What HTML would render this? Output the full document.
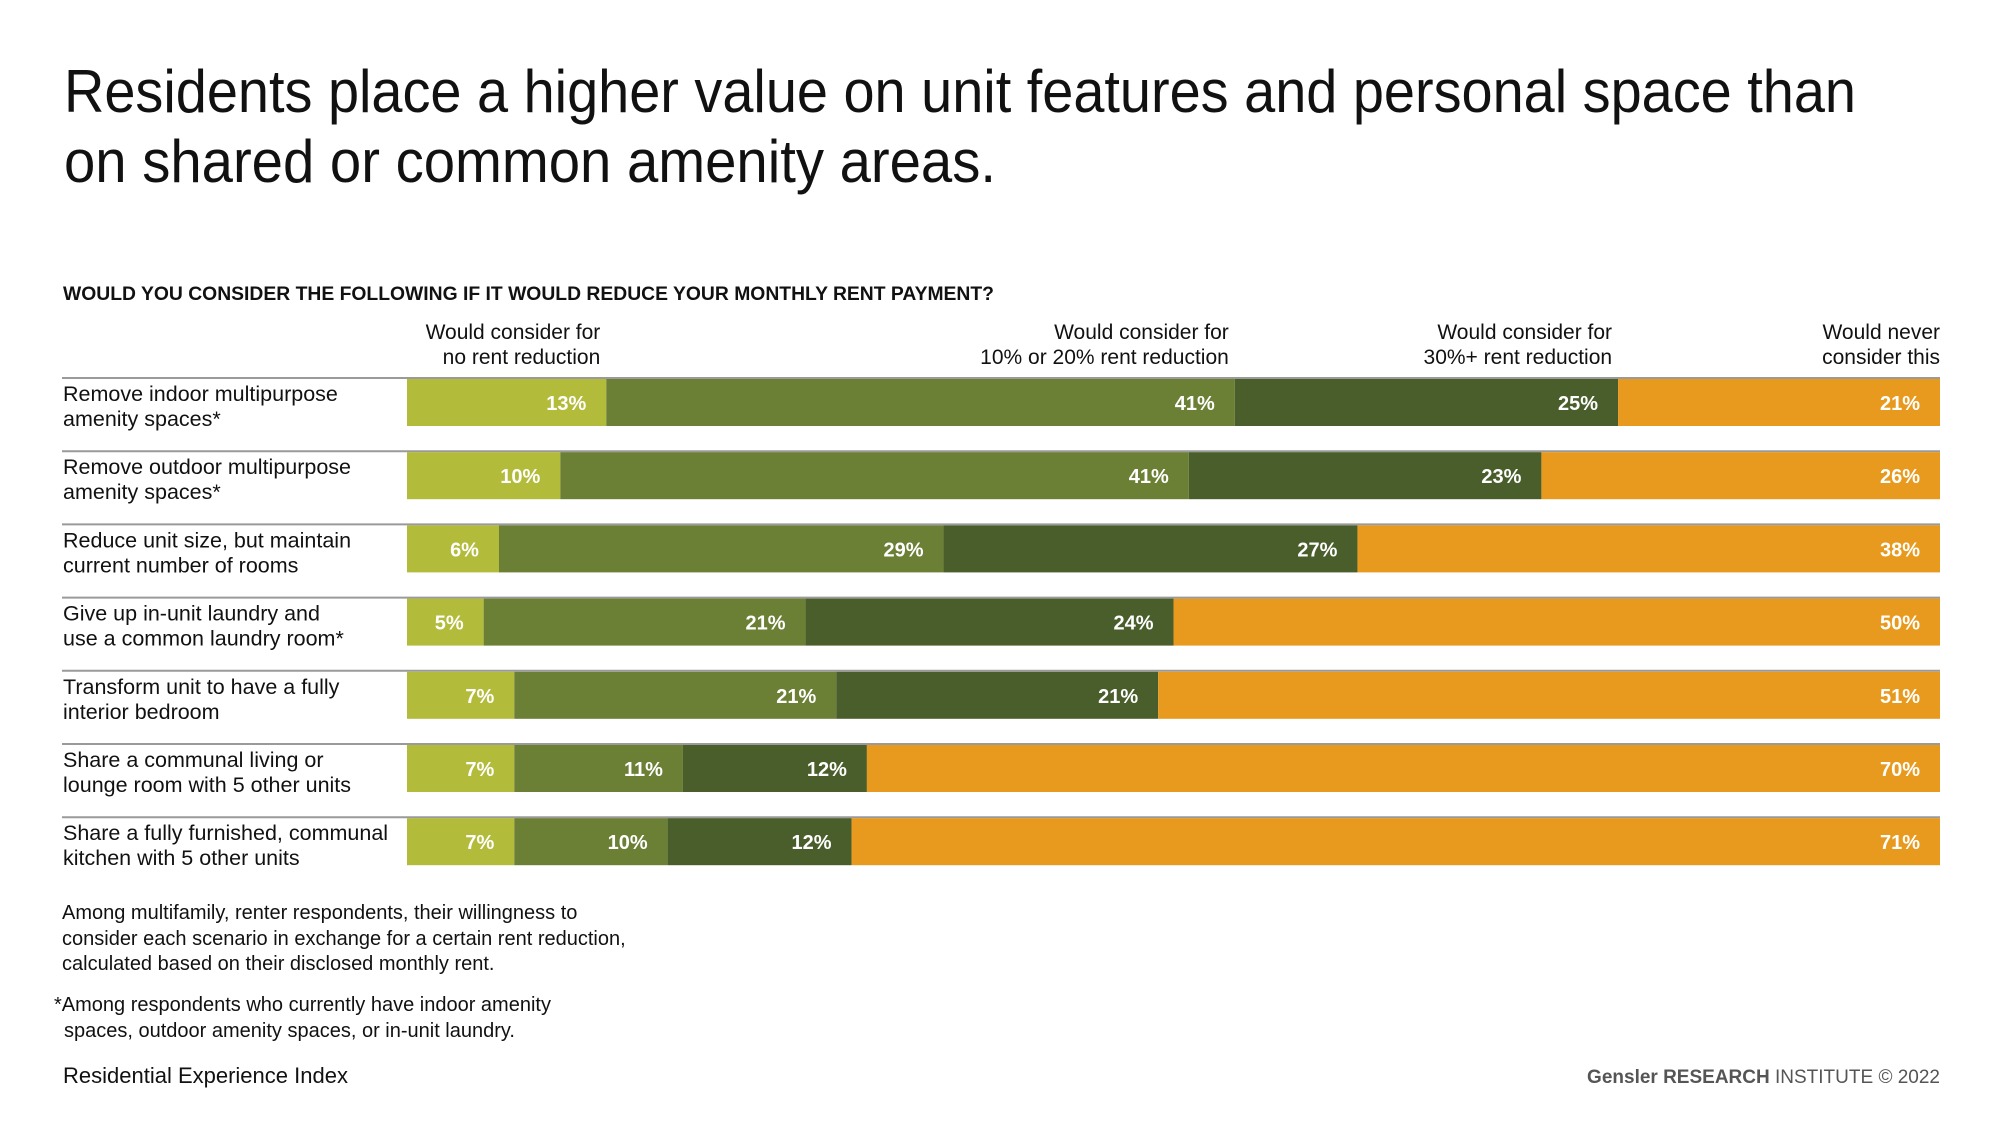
<!DOCTYPE html>
<html><head><meta charset="utf-8">
<style>
html,body{margin:0;padding:0;background:#fff;}
svg{display:block;font-family:"Liberation Sans",sans-serif;}
</style></head>
<body>
<svg id="chart" width="2000" height="1125" viewBox="0 0 2000 1125" xmlns="http://www.w3.org/2000/svg">
<text x="64" y="112" font-size="60" fill="#111" textLength="1792" lengthAdjust="spacingAndGlyphs">Residents place a higher value on unit features and personal space than</text>
<text x="64" y="182" font-size="60" fill="#111" textLength="932" lengthAdjust="spacingAndGlyphs">on shared or common amenity areas.</text>
<text x="63" y="300" font-size="19" font-weight="bold" fill="#111" textLength="931" lengthAdjust="spacingAndGlyphs">WOULD YOU CONSIDER THE FOLLOWING IF IT WOULD REDUCE YOUR MONTHLY RENT PAYMENT?</text>
<g id="headers"></g>
<g id="rows"></g>
<g font-size="20" fill="#111">
<text x="62" y="919">Among multifamily, renter respondents, their willingness to</text>
<text x="62" y="945">consider each scenario in exchange for a certain rent reduction,</text>
<text x="62" y="970">calculated based on their disclosed monthly rent.</text>
<text x="54" y="1011">*Among respondents who currently have indoor amenity</text>
<text x="64" y="1037">spaces, outdoor amenity spaces, or in-unit laundry.</text>
</g>
<text x="63" y="1083" font-size="22" fill="#111">Residential Experience Index</text>
<text x="1940" y="1083" font-size="19" fill="#555" text-anchor="end"><tspan font-weight="bold">Gensler RESEARCH</tspan> INSTITUTE © 2022</text>
</svg>
<script>
const categories = [
 ["Remove indoor multipurpose","amenity spaces*"],
 ["Remove outdoor multipurpose","amenity spaces*"],
 ["Reduce unit size, but maintain","current number of rooms"],
 ["Give up in-unit laundry and","use a common laundry room*"],
 ["Transform unit to have a fully","interior bedroom"],
 ["Share a communal living or","lounge room with 5 other units"],
 ["Share a fully furnished, communal","kitchen with 5 other units"]
];
const noReduction = [13,10,6,5,7,7,7];
const reduction10to20 = [41,41,29,21,21,11,10];
const reduction30plus = [25,23,27,24,21,12,12];
const neverConsider = [21,26,38,50,51,70,71];
const seriesNames = [["Would consider for","no rent reduction"],["Would consider for","10% or 20% rent reduction"],["Would consider for","30%+ rent reduction"],["Would never","consider this"]];

const NS="http://www.w3.org/2000/svg";
const colors=["#b3bb3a","#6b7f35","#4a5e2c","#e89a1e"];
const x0=407,x1=1940,rowTop0=379,rowStep=73.2,barH=47;
function xScale(v,total){return (x1-x0)*v/total;}
function yRow(i){return rowTop0+i*rowStep;}
function mk(tag,attrs,parent){const e=document.createElementNS(NS,tag);for(const k in attrs)e.setAttribute(k,attrs[k]);parent.appendChild(e);return e;}
const series=[noReduction,reduction10to20,reduction30plus,neverConsider];
const rows=document.getElementById('rows');
const headers=document.getElementById('headers');

let cum=0;const t0=series.reduce((s,a)=>s+a[0],0);
series.forEach((arr,j)=>{
  cum+=arr[0];
  const hx=x0+xScale(cum,t0)-(j<3?6:0);
  const g=mk('g',{},headers);
  
  
  seriesNames[j].forEach((ln,k)=>{
    const t=mk('text',{x:hx,y:339+k*25,'font-size':21,fill:'#111','text-anchor':'end'},g);
    t.textContent=ln;
  });
});

categories.forEach((cat,i)=>{
  const y=yRow(i);
  const g=mk('g',{},rows);
  
  
  const sep=mk('line',{x1:62,x2:x1,y1:y-1,y2:y-1,stroke:'#9a9a9a','stroke-width':2},g);
  
  
  cat.forEach((ln,k)=>{
    const t=mk('text',{x:63,y:y+22+k*25,'font-size':21.5,fill:'#111'},g);
    
    
    t.textContent=ln;
  });
  const total=series.reduce((s,a)=>s+a[i],0);
  let c=0;
  series.forEach((arr,j)=>{
    const v=arr[i];
    const bx=x0+xScale(c,total),bw=xScale(v,total);
    const r=mk('rect',{x:bx,y:y,width:bw,height:barH,fill:colors[j]},g);
    
    
    const t=mk('text',{x:bx+bw-20,y:y+31,'font-size':20,'font-weight':'bold',fill:'#fff','text-anchor':'end'},g);
    
    
    t.textContent=v+'%';
    c+=v;
  });
});
</script>
</body></html>
